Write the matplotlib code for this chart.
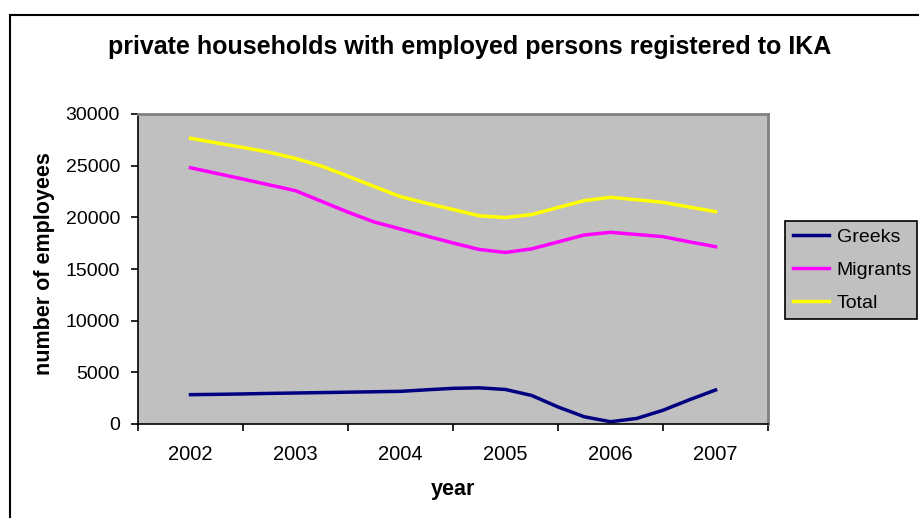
import matplotlib
matplotlib.use("Agg")
import matplotlib.pyplot as plt
from matplotlib.patches import Rectangle

plt.rcParams['font.family'] = ['Liberation Sans', 'DejaVu Sans']

# quarterly positions, values
years = [2002, 2002.25, 2002.5, 2002.75, 2003, 2003.25, 2003.5, 2003.75,
         2004, 2004.25, 2004.5, 2004.75, 2005, 2005.25, 2005.5, 2005.75,
         2006, 2006.25, 2006.5, 2006.75, 2007]
greeks = [2840, 2870, 2910, 2960, 3000, 3040, 3080, 3120,
          3160, 3310, 3450, 3500, 3340, 2760, 1650, 700,
          220, 540, 1330, 2340, 3290]
migrants = [24800, 24250, 23700, 23140, 22580, 21540, 20500, 19550,
            18870, 18190, 17520, 16890, 16600, 16950, 17620, 18290,
            18550, 18340, 18130, 17630, 17160]
total = [27650, 27200, 26760, 26300, 25700, 24950, 23980, 22980,
         22000, 21360, 20760, 20150, 19980, 20270, 20950, 21620,
         21940, 21700, 21450, 21000, 20550]
year_labels = ["2002", "2003", "2004", "2005", "2006", "2007"]
y_ticks = [0, 5000, 10000, 15000, 20000, 25000, 30000]


def main():
	fig = plt.figure(figsize=(9.2, 5.18), dpi=100)
	# outer chart border
	fig.patches.append(Rectangle((10 / 920, -0.1), 1.0, 1 - 15 / 518 + 0.1,
	                             transform=fig.transFigure, fill=False,
	                             edgecolor='black', linewidth=1.5))

	ax = fig.add_axes([138 / 920, 1 - 424 / 518, 630 / 920, 310 / 518])
	ax.set_facecolor('#C0C0C0')

	ax.plot(years, greeks, color='#000080', lw=2.5, label='Greeks')
	ax.plot(years, migrants, color='#FF00FF', lw=2.5, label='Migrants')
	ax.plot(years, total, color='#FFFF00', lw=2.5, label='Total')

	ax.set_xlim(2001.5, 2007.5)
	ax.set_ylim(0, 30000)

	# category boundaries get the tick marks, centres get the labels
	centres = [2002 + i for i in range(len(year_labels))]
	ax.set_xticks([c - 0.5 for c in centres] + [centres[-1] + 0.5])
	ax.set_xticklabels([])
	ax.set_xticks(centres, minor=True)
	ax.set_xticklabels(year_labels, minor=True)
	ax.tick_params(axis='x', which='major', direction='out', length=5, width=1.2, color='black')
	ax.tick_params(axis='x', which='minor', length=0, pad=15, labelsize=14.5)
	ax.set_yticks(y_ticks)
	ax.set_yticklabels([str(v) for v in y_ticks])
	ax.tick_params(axis='y', direction='out', length=5, width=1.2, labelsize=14, pad=8)

	for side in ['top', 'right']:
		ax.spines[side].set_color('#808080')
		ax.spines[side].set_linewidth(2)
	for side in ['left', 'bottom']:
		ax.spines[side].set_color('black')
		ax.spines[side].set_linewidth(1.2)

	fig.text(453 / 920, 1 - 490 / 518, "year", ha='center', va='center',
	         fontsize=15.5, fontweight='bold')
	fig.text(45 / 920, 1 - 264 / 518, "number of employees", ha='center', va='center',
	         rotation=90, fontsize=15.5, fontweight='bold')
	fig.text(470 / 920, 1 - 47 / 518, "private households with employed persons registered to IKA",
	         ha='center', va='center', fontsize=18, fontweight='bold')

	leg = ax.legend(loc='center left', bbox_to_anchor=(785 / 920, 1 - 320 / 518, 132 / 920, 100 / 518),
	                bbox_transform=fig.transFigure, mode='expand', fontsize=14,
	                frameon=True, fancybox=False, handlelength=1.85, handletextpad=0.42,
	                borderaxespad=0, labelspacing=0.78, borderpad=0.39)
	leg.get_frame().set_facecolor('#C0C0C0')
	leg.get_frame().set_edgecolor('black')
	leg.get_frame().set_linewidth(1.2)
	leg.get_frame().set_alpha(1)

	fig.savefig("out.png", dpi=100)


if __name__ == "__main__":
	main()
